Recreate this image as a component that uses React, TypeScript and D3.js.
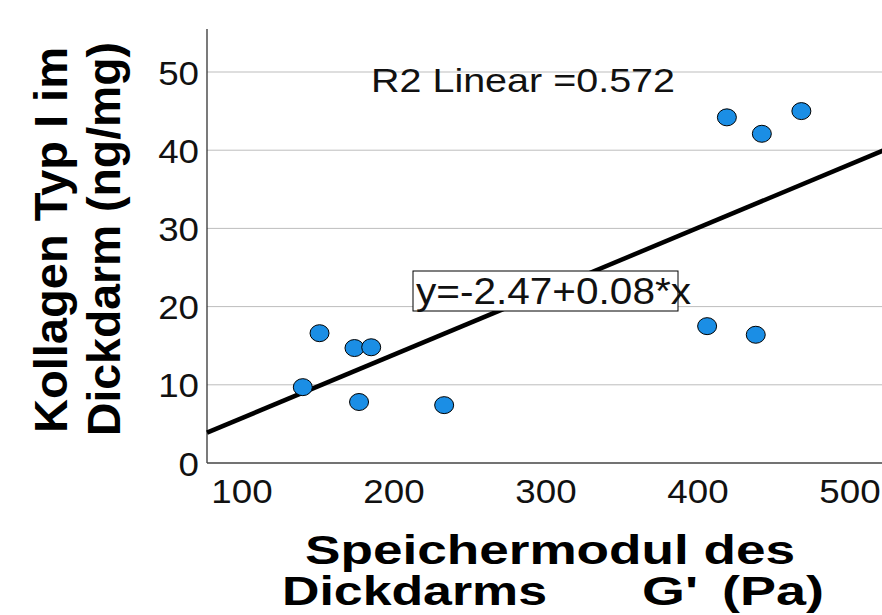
import React from "react";
import * as d3 from "d3";

// Speichermodul G' (Pa) and Kollagen Typ I (ng/mg), one entry per sample
const speichermodul = [140, 151, 174, 185, 177, 233, 406, 438, 419, 442, 468];
const kollagen = [9.7, 16.6, 14.7, 14.8, 7.8, 7.4, 17.5, 16.4, 44.2, 42.1, 45.0];

const xTicks = [100, 200, 300, 400, 500];
const yTicks = [0, 10, 20, 30, 40, 50];
const gridTicks = [10, 20, 30, 40, 50];

const r2Label = "R2 Linear =0.572";
const fitLabel = "y=-2.47+0.08*x";

const FONT = "'Liberation Sans', Arial, Helvetica, sans-serif";

const App = () => {
  const width = 882;
  const height = 615;
  const left = 207;
  const bottom = 463;
  const top = 29;

  // scales (the original chart is cropped on the right)
  const x = d3.scaleLinear().domain([100, 500]).range([242, 850]);
  const y = d3.scaleLinear().domain([0, 50]).range([bottom, 72]);

  // least squares fit
  const mx = d3.mean(speichermodul) as number;
  const my = d3.mean(kollagen) as number;
  const sxy = d3.sum(speichermodul, (v, i) => (v - mx) * (kollagen[i] - my));
  const sxx = d3.sum(speichermodul, (v) => (v - mx) * (v - mx));
  const slope = sxy / sxx;
  const intercept = my - slope * mx;
  const x0 = x.invert(left);
  const x1 = x.invert(width + 10);
  const fitLine = d3.line<number>()
    .x((d) => x(d))
    .y((d) => y(intercept + slope * d));

  return (
    <svg
      width={width}
      height={height}
      style={{ position: "absolute", left: 0, top: 0, background: "#fff" }}
      fontFamily={FONT}
    >
      {/* gridlines */}
      {gridTicks.map((t) => (
        <line key={t} x1={left} x2={width} y1={y(t)} y2={y(t)} stroke="#bdbdbd" strokeWidth={1} />
      ))}

      {/* axes */}
      <line x1={left} x2={left} y1={top} y2={bottom} stroke="#222" strokeWidth={1.2} />
      <line x1={left} x2={width} y1={bottom} y2={bottom} stroke="#444" strokeWidth={1.5} />

      {/* y tick labels */}
      {yTicks.map((t) => (
        <g key={t} transform={`translate(199, ${y(t) + 12.5}) scale(1.08, 1)`}>
          <text textAnchor="end" fontSize={34} fill="#111">{t}</text>
        </g>
      ))}

      {/* x tick labels */}
      {xTicks.map((t) => (
        <g key={t} transform={`translate(${x(t)}, 503) scale(1.08, 1)`}>
          <text textAnchor="middle" fontSize={34} fill="#111">{t}</text>
        </g>
      ))}

      {/* fit line */}
      <path d={fitLine([x0, x1]) || ""} fill="none" stroke="#000" strokeWidth={4.5} />

      {/* points */}
      {speichermodul.map((v, i) => (
        <ellipse
          key={i}
          cx={x(v)}
          cy={y(kollagen[i])}
          rx={9.5}
          ry={8.5}
          fill="#1b8ee5"
          stroke="#000"
          strokeWidth={1}
        />
      ))}

      {/* R2 annotation */}
      <text x={371} y={92} fontSize={33} fill="#111" textLength={304} lengthAdjust="spacingAndGlyphs">
        {r2Label}
      </text>

      {/* equation box */}
      <rect x={413} y={271} width={265} height={40} fill="#fff" stroke="#000" strokeWidth={1} />
      <text x={416} y={304} fontSize={37} fill="#111" textLength={275} lengthAdjust="spacingAndGlyphs">
        {fitLabel}
      </text>

      {/* y axis title */}
      <text
        transform="translate(67, 240) rotate(-90)"
        textAnchor="middle"
        fontSize={47}
        fontWeight="bold"
        textLength={386}
        lengthAdjust="spacingAndGlyphs"
      >
        Kollagen Typ I im
      </text>
      <text
        transform="translate(120, 239) rotate(-90)"
        textAnchor="middle"
        fontSize={47}
        fontWeight="bold"
        textLength={394}
        lengthAdjust="spacingAndGlyphs"
      >
        Dickdarm (ng/mg)
      </text>

      {/* x axis title */}
      <text x={305} y={564} fontSize={40} fontWeight="bold" textLength={490} lengthAdjust="spacingAndGlyphs">
        Speichermodul des
      </text>
      <text x={282} y={605} fontSize={40} fontWeight="bold" textLength={265} lengthAdjust="spacingAndGlyphs">
        Dickdarms
      </text>
      <text x={642} y={605} fontSize={40} fontWeight="bold" textLength={56} lengthAdjust="spacingAndGlyphs">
        G'
      </text>
      <text x={722} y={605} fontSize={40} fontWeight="bold" textLength={102} lengthAdjust="spacingAndGlyphs">
        (Pa)
      </text>
    </svg>
  );
};

export default App;
